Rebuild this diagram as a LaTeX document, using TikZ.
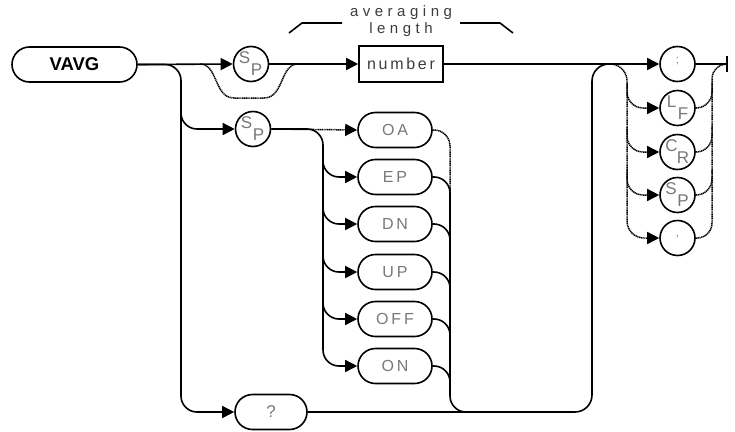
\documentclass[tikz,border=0pt]{standalone}
\usepackage{fontspec}
\setmainfont{Liberation Sans}
\newfontfamily\plotfont[LetterSpace=18]{Liberation Sans}
\newfontfamily\numfont[LetterSpace=17]{Liberation Sans}
\newfontfamily\widefont[LetterSpace=30]{Liberation Sans}
\usetikzlibrary{arrows.meta,shapes.misc,calc}
\definecolor{lbl}{RGB}{120,120,120}
\definecolor{dk}{RGB}{60,60,60}
\begin{document}
\begin{tikzpicture}[x=1pt,y=-1pt,
  ln/.style={line width=1.6pt},
  dl/.style={line width=1.5pt, dash pattern=on 1.2pt off 0.6pt},
  arr/.style={-{Triangle[length=12pt,width=12pt]}},
  pill/.style={rounded rectangle, draw, line width=1.6pt, minimum width=74pt,
    minimum height=35pt, inner sep=0pt, font=\plotfont\fontsize{16}{16}\selectfont, text=lbl},
  circ/.style={circle, draw, line width=1.6pt, minimum size=35pt, inner sep=0pt},
  sub/.style={font=\fontsize{17}{17}\selectfont, text=lbl, inner sep=0pt},
  tiny/.style={font=\fontsize{11}{11}\selectfont, text=lbl, inner sep=0pt}
]
\useasboundingbox (0,0) rectangle (735,431);

% nodes
\node[pill, minimum width=125pt, font=\bfseries\fontsize{18.5}{18.5}\selectfont, text=black] (vavg) at (74.5,64.5) {VAVG};
\node[circ] (sp1) at (251,64) {};
\node[sub] (sp1s) at ([shift={(-6.5,-6.5)}]sp1.center) {S};
\node[sub] (sp1p) at ([shift={(5.5,6)}]sp1.center) {P};
\node[draw, line width=1.6pt, minimum width=84pt, minimum height=36pt, inner sep=0pt,
  font=\numfont\fontsize{16}{16}\selectfont, text=dk] (num) at (401,64) {number};
\node[font=\widefont\fontsize{15}{15}\selectfont, text=dk, inner sep=0pt] (avg) at (401,13) {averaging};
\node[font=\widefont\fontsize{15}{15}\selectfont, text=dk, inner sep=0pt] (len) at (401,30) {length};

\node[circ] (sp2) at (253,129) {};
\node[sub] (sp2s) at ([shift={(-6.5,-6.5)}]sp2.center) {S};
\node[sub] (sp2p) at ([shift={(5.5,6)}]sp2.center) {P};

\node[pill] (oa) at (395,130) {OA};
\node[pill] (ep) at (395,177) {EP};
\node[pill] (dn) at (395,224) {DN};
\node[pill] (up) at (395,272) {UP};
\node[pill] (off) at (395,319) {OFF};
\node[pill] (on) at (395,366) {ON};
\node[pill, minimum width=72pt, font=\fontsize{17}{17}\selectfont] (q) at (271,412) {?};

\node[circ] (semi) at (677.5,64) {};
\node[tiny] (semit) at ([shift={(0,-3)}]semi.center) {;};
\node[circ] (lf) at (677.5,108) {};
\node[sub] (lfl) at ([shift={(-6,-6.5)}]lf.center) {L};
\node[sub] (lff) at ([shift={(5.5,6)}]lf.center) {F};
\node[circ] (cr) at (677.5,152) {};
\node[sub] (crc) at ([shift={(-6,-6.5)}]cr.center) {C};
\node[sub] (crr) at ([shift={(5.5,6)}]cr.center) {R};
\node[circ] (sp3) at (677.5,195) {};
\node[sub] (sp3s) at ([shift={(-6.5,-6.5)}]sp3.center) {S};
\node[sub] (sp3p) at ([shift={(5.5,6)}]sp3.center) {P};
\node[circ] (comma) at (677.5,238) {};
\node[tiny] (commat) at ([shift={(0,-1)}]comma.center) {,};

% bracket above number
\coordinate (bl1) at (289,33); \coordinate (bl2) at (302,23); \coordinate (bl3) at (342,23);
\coordinate (br1) at (460,23); \coordinate (br2) at (500,23); \coordinate (br3) at (513,33);
\draw[ln] (bl1) -- (bl2) -- (bl3);
\draw[ln] (br1) -- (br2) -- (br3);

% coordinates
\coordinate (vb) at (181,412);
\coordinate (vb2) at (181,100);
\coordinate (bp1) at (200,64);
\coordinate (bp2) at (298,64);
\coordinate (lc) at (323,366);
\coordinate (rc) at (450,412);
\coordinate (ac) at (592,64);
\coordinate (lx) at (627,64);
\coordinate (rx) at (712,64);
\coordinate (endc) at (727,64);

% main line
\draw[ln,arr] (vavg.east) -- (sp1.west);
\draw[ln,arr] (sp1.east) -- (num.west);
\draw[ln,arr] (num.east) -- (semi.west);
\draw[ln] (semi.east) -- (endc);
\draw[ln] ([yshift=8pt]endc) -- ([yshift=-8pt]endc);

% SP1 bypass
\draw[dl] (bp1) .. controls (218,64) and (214,98) .. (234,98) -- (264,98)
  .. controls (284,98) and (280,64) .. (bp2);

% left trunk
\draw[ln,rounded corners=16pt,arr] (vavg.east) -| (vb) -- (q.west);
\draw[ln,rounded corners=16pt,arr] (vb2) |- (sp2.west);

% OA..ON column
\draw[dl,arr] (sp2.east) -- (oa.west);
\draw[ln,rounded corners=16pt,arr] (sp2.east) -| (lc) -- (on.west);
\foreach \n in {ep,dn,up,off}
  \draw[ln,rounded corners=16pt,arr] ($(lc |- \n)+(0,-30)$) |- (\n.west);
\draw[dl,rounded corners=16pt] (oa.east) -| ($(rc |- ep)+(0,20)$);
\draw[ln,rounded corners=16pt] (ep.east) -| (rc) -- ($(rc)+(30,0)$);
\foreach \n in {dn,up,off,on}
  \draw[ln,rounded corners=16pt] (\n.east) -| ($(rc |- \n)+(0,22)$);

% bottom return and arch
\draw[ln,rounded corners=17pt] (q.east) -| (ac) -- ($(ac)+(25,0)$);

% terminator column
\draw[dl,rounded corners=17pt,arr] ($(ac)+(10,0)$) -| (lx |- comma) -- (comma.west);
\foreach \n in {lf,cr,sp3}
  \draw[dl,rounded corners=16pt,arr] ($(lx |- \n)+(0,-25)$) |- (\n.west);
\draw[dl,rounded corners=15pt] (comma.east) -| (rx) -- (endc);
\foreach \n in {lf,cr,sp3}
  \draw[dl,rounded corners=16pt] (\n.east) -| ($(rx |- \n)+(0,-25)$);
\end{tikzpicture}
\end{document}
